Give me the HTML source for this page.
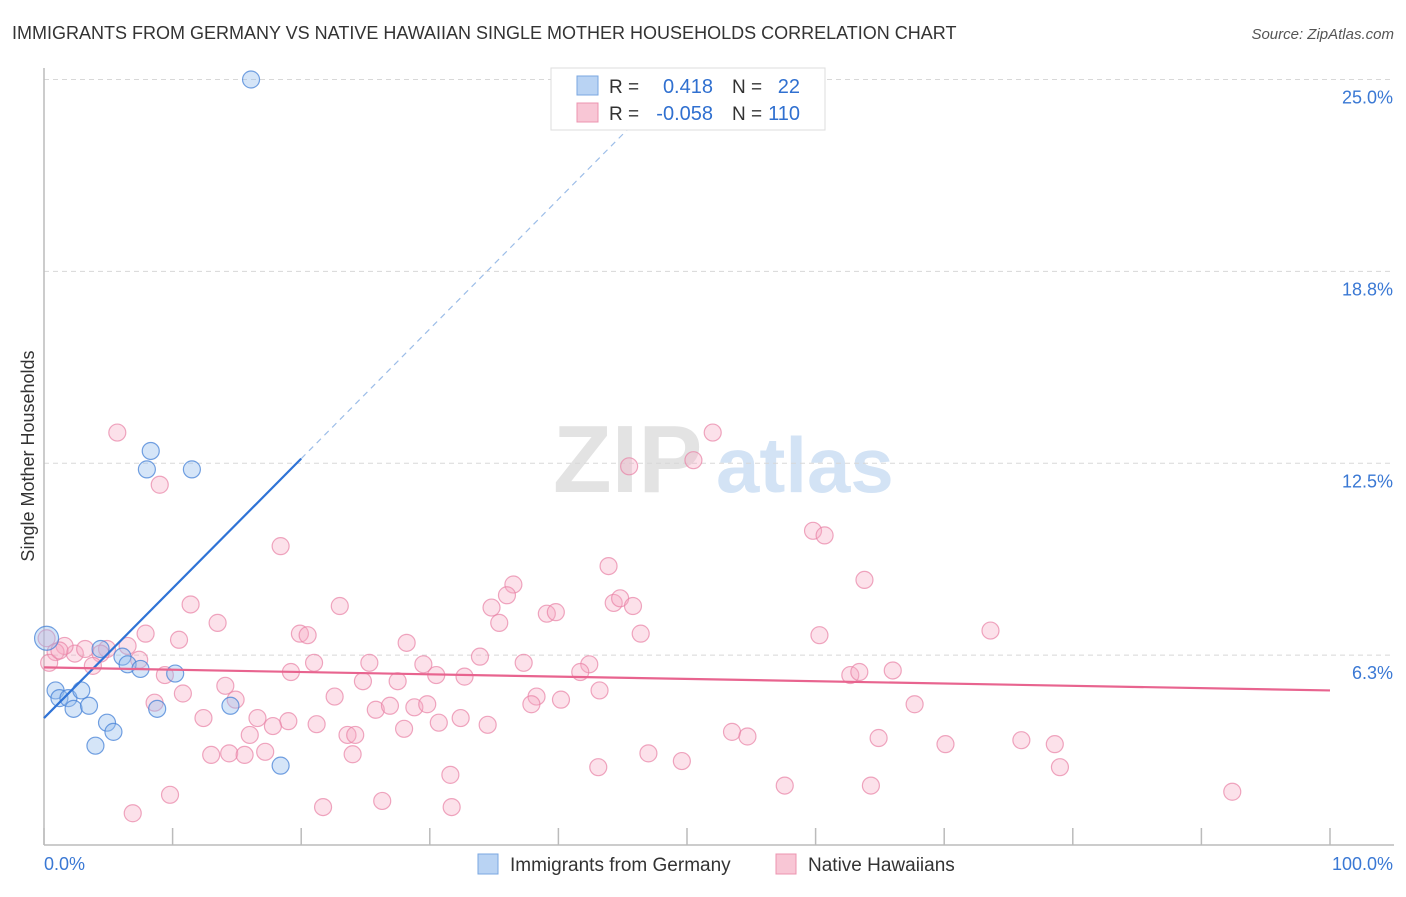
<!DOCTYPE html>
<html><head><meta charset="utf-8"><style>
body{margin:0;background:#fff;font-family:"Liberation Sans",sans-serif;}
svg text{font-family:"Liberation Sans",sans-serif;}
</style></head><body>
<svg id="chart" width="1406" height="892" viewBox="0 0 1406 892" xmlns="http://www.w3.org/2000/svg">
<text x="12" y="39" font-size="18" fill="#333">IMMIGRANTS FROM GERMANY VS NATIVE HAWAIIAN SINGLE MOTHER HOUSEHOLDS CORRELATION CHART</text>
<text x="1394" y="39" font-size="15" fill="#555" font-style="italic" text-anchor="end">Source: ZipAtlas.com</text>
<g>
<text x="553" y="492" font-size="96" font-family="Liberation Serif,serif" fill="#e3e3e3" font-weight="bold">ZIP</text>
<text x="716" y="492" font-size="78" fill="#d3e3f5" font-weight="bold">atlas</text>
</g>
<g id="grid"></g>
<g id="axes"></g>
<g id="pinkPts"></g>
<g id="bluePts"></g>
<g id="trends"></g>
<g>
<rect x="551" y="68" width="274" height="62" fill="#fff" stroke="#ddd"/>
<rect x="577" y="76" width="21" height="19" fill="#b9d3f3" stroke="#7aa7e0"/>
<rect x="577" y="103" width="21" height="19" fill="#f8c6d5" stroke="#ec94b0"/>
<text x="609" y="93" font-size="19" fill="#333">R =</text>
<text x="713" y="93" font-size="20" fill="#3070d0" text-anchor="end">0.418</text>
<text x="732" y="93" font-size="19" fill="#333">N =</text>
<text x="800" y="93" font-size="20" fill="#3070d0" text-anchor="end">22</text>
<text x="609" y="120" font-size="19" fill="#333">R =</text>
<text x="713" y="120" font-size="20" fill="#3070d0" text-anchor="end">-0.058</text>
<text x="732" y="120" font-size="19" fill="#333">N =</text>
<text x="800" y="120" font-size="20" fill="#3070d0" text-anchor="end">110</text>
</g>
<g>
<rect x="478" y="854" width="20" height="20" fill="#b9d3f3" stroke="#7aa7e0"/>
<text x="510" y="871" font-size="19" fill="#333">Immigrants from Germany</text>
<rect x="776" y="854" width="20" height="20" fill="#f8c6d5" stroke="#ec94b0"/>
<text x="808" y="871" font-size="19" fill="#333">Native Hawaiians</text>
</g>
<text transform="translate(34,456) rotate(-90)" font-size="18" fill="#333" text-anchor="middle">Single Mother Households</text>
</svg>
<script>
const yTicks=[6.25,12.5,18.75,25];
const yTickLabels=["6.3%","12.5%","18.8%","25.0%"];
const xTicks=[0,10,20,30,40,50,60,70,80,90,100];
const xEndLabels=["0.0%","100.0%"];
const blueX=[16.1,8.3,8,11.5,4.4,6.1,6.5,7.5,10.2,0.9,1.2,1.9,2.9,2.3,3.5,4.9,5.4,4,8.8,14.5,18.4,0.2];
const blueY=[25,12.9,12.3,12.3,6.45,6.2,5.95,5.8,5.65,5.1,4.85,4.85,5.1,4.5,4.6,4.05,3.75,3.3,4.5,4.6,2.65,6.8];
const pinkX=[5.7,9,18.4,43.9,36.5,63.8,59.8,60.7,52,50.5,45.5,11.4,13.5,23,34.8,36,39.1,39.8,44.3,44.8,45.8,35.4,28.2,46.4,60.3,73.6,7.9,10.5,19.9,20.5,6.5,4.9,4.4,2.4,1.6,0.9,0.4,7.4,3.8,9.4,14.1,19.2,21,25.3,29.5,33.9,37.3,30.5,27.5,42.4,41.7,32.7,62.7,63.4,66,10.8,14.9,8.6,22.6,24.8,25.8,26.9,28.8,29.8,38.3,37.9,40.2,43.2,12.4,16.6,19,17.8,21.2,23.6,24.2,28,30.7,32.4,34.5,67.7,53.5,54.7,64.9,70.1,76,78.6,79,16,17.2,13,14.4,15.6,24,47,49.6,43.1,31.6,57.6,9.8,21.7,6.9,26.3,31.7,64.3,92.4,1.2,3.2,0.2];
const pinkY=[13.5,11.8,9.8,9.15,8.55,8.7,10.3,10.15,13.5,12.6,12.4,7.9,7.3,7.85,7.8,8.2,7.6,7.65,7.95,8.1,7.85,7.3,6.65,6.95,6.9,7.05,6.95,6.75,6.95,6.9,6.55,6.45,6.3,6.3,6.55,6.35,6.0,6.1,5.9,5.6,5.25,5.7,6.0,6.0,5.95,6.2,6.0,5.6,5.4,5.95,5.7,5.55,5.6,5.7,5.75,5.0,4.8,4.7,4.9,5.4,4.47,4.6,4.55,4.65,4.9,4.65,4.8,5.1,4.2,4.2,4.1,3.94,4.0,3.65,3.65,3.85,4.05,4.2,3.98,4.65,3.75,3.6,3.55,3.35,3.48,3.35,2.6,3.65,3.1,3.0,3.05,3.0,3.02,3.05,2.8,2.6,2.35,2.0,1.7,1.3,1.1,1.5,1.3,2.0,1.8,6.4,6.45,6.8];
const blueTrend=[0,4.2,20,12.65];
const pinkTrend=[0,5.85,100,5.1];
const X0=44,X1=1330,Y0=847,PY=30.7;
const sx=v=>X0+(X1-X0)*v/100, sy=v=>Y0-v*PY;
const NS="http://www.w3.org/2000/svg";
function mk(tag,attrs,parent){const e=document.createElementNS(NS,tag);for(const k in attrs)e.setAttribute(k,attrs[k]);parent.appendChild(e);return e;}
const grid=document.getElementById('grid'),axes=document.getElementById('axes');
yTicks.forEach((t,i)=>{
 const l=mk('line',{x1:X0,x2:1394,y1:sy(t),y2:sy(t),stroke:'#d8d8d8','stroke-dasharray':'5,4'},grid);
 
 
 const tx=mk('text',{x:1393,y:sy(t)+24,'font-size':18,fill:'#3a78d4','text-anchor':'end'},axes);
 tx.textContent=yTickLabels[i];
 
 
});
const ax=mk('line',{x1:X0,x2:X0,y1:68,y2:845,stroke:'#bbb','stroke-width':1.5},axes);


const bx=mk('line',{x1:X0,x2:1394,y1:845,y2:845,stroke:'#bbb','stroke-width':1.5},axes);


xTicks.forEach(t=>{
 const l=mk('line',{x1:sx(t),x2:sx(t),y1:828,y2:845,stroke:'#bbb','stroke-width':1.5},axes);
 
 
});
const xl0=mk('text',{x:44,y:870,'font-size':18,fill:'#3a78d4'},axes);xl0.textContent=xEndLabels[0];


const xl1=mk('text',{x:1393,y:870,'font-size':18,fill:'#3a78d4','text-anchor':'end'},axes);xl1.textContent=xEndLabels[1];


const pg=document.getElementById('pinkPts');
pinkX.forEach((x,i)=>{
 const c=mk('circle',{cx:sx(x),cy:sy(pinkY[i]),r:8.5,fill:'rgba(246,170,195,0.35)',stroke:'rgba(232,130,165,0.7)','stroke-width':1.2},pg);
 
 
});
const bg=document.getElementById('bluePts');
blueX.forEach((x,i)=>{
 const c=mk('circle',{cx:sx(x),cy:sy(blueY[i]),r:i==21?12:8.5,fill:'rgba(150,190,238,0.4)',stroke:'rgba(70,130,215,0.75)','stroke-width':1.2},bg);
 
 
});
const tg=document.getElementById('trends');
const slope=(blueTrend[3]-blueTrend[1])/(blueTrend[2]-blueTrend[0]);
const bl=mk('line',{x1:sx(blueTrend[0]),y1:sy(blueTrend[1]),x2:sx(blueTrend[2]),y2:sy(blueTrend[3]),stroke:'#2f73d6','stroke-width':2.2},tg);


const xe=46.5;
const bd=mk('line',{x1:sx(blueTrend[2]),y1:sy(blueTrend[3]),x2:sx(xe),y2:sy(blueTrend[1]+slope*xe),stroke:'#9cbde8','stroke-width':1.2,'stroke-dasharray':'6,5'},tg);


const pl=mk('line',{x1:sx(pinkTrend[0]),y1:sy(pinkTrend[1]),x2:sx(pinkTrend[2]),y2:sy(pinkTrend[3]),stroke:'#e8648f','stroke-width':2.2},tg);


</script>
</body></html>
